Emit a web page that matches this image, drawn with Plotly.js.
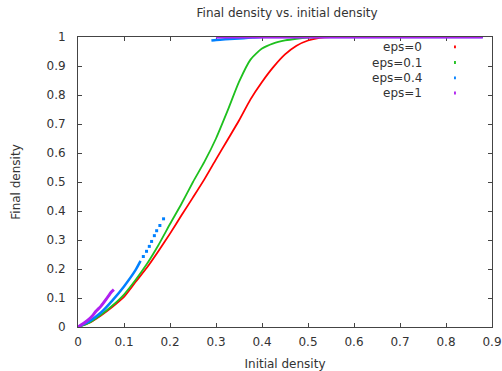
<!DOCTYPE html>
<html>
<head>
<meta charset="utf-8">
<script src="https://cdn.plot.ly/plotly-3.0.1.min.js"></script>
<style>html,body{margin:0;padding:0;background:#fff;}#chart{width:502px;height:371px;}</style>
</head>
<body>
<div id="chart"></div>
<script>
// eps=0
const xEps0 = [0,0.025,0.05,0.075,0.1,0.125,0.15,0.175,0.2,0.225,0.25,0.275,0.3,0.325,0.35,0.375,0.4,0.425,0.45,0.475,0.5,0.525,0.55,0.6,0.7,0.8,0.88];
const yEps0 = [0,0.015,0.04,0.07,0.104,0.155,0.205,0.262,0.322,0.385,0.447,0.51,0.578,0.645,0.712,0.785,0.845,0.897,0.94,0.97,0.988,0.997,1,1,1,1,1];
// eps=0.1
const xEps01 = [0,0.025,0.05,0.075,0.1,0.125,0.15,0.175,0.2,0.225,0.25,0.275,0.3,0.325,0.35,0.375,0.4,0.425,0.45,0.475,0.5,0.525,0.6,0.7,0.8,0.88];
const yEps01 = [0,0.015,0.042,0.074,0.112,0.162,0.218,0.283,0.355,0.425,0.5,0.57,0.65,0.745,0.845,0.922,0.96,0.978,0.988,0.994,0.998,1,1,1,1,1];
// eps=0.4 (low branch, sparse points, upper branch)
const xEps04Low = [0,0.025,0.05,0.075,0.1,0.125,0.136];
const yEps04Low = [0,0.02,0.05,0.092,0.14,0.196,0.228];
const xEps04Sparse = [0.142,0.149,0.155,0.16,0.166,0.171,0.178,0.186];
const yEps04Sparse = [0.243,0.261,0.278,0.295,0.315,0.332,0.35,0.373];
const xEps04High = [0.29,0.3,0.32,0.34,0.36,0.38,0.4,0.5,0.6,0.7,0.8,0.88];
const yEps04High = [0.988,0.99,0.992,0.994,0.996,0.998,1,1,1,1,1,1];
// eps=1
const xEps1Low = [0,0.01,0.02,0.03,0.039,0.05,0.061,0.072,0.078];
const yEps1Low = [0,0.01,0.022,0.036,0.054,0.072,0.095,0.12,0.129];
const xEps1High = [0.3,0.4,0.5,0.6,0.7,0.8,0.88];
const yEps1High = [1,1,1,1,1,1,1];

const seriesNames = ['eps=0','eps=0.1','eps=0.4','eps=1'];
const seriesColors = ['#ff0000','#1ec01e','#0080ff','#b020f0'];

function join(a, b){ return a.concat([null], b); }

const traces = [
  {x: xEps0, y: yEps0, name: seriesNames[0], mode: 'lines', line: {color: seriesColors[0], width: 1.8, shape: 'spline', smoothing: 0.6}},
  {x: xEps01, y: yEps01, name: seriesNames[1], mode: 'lines', line: {color: seriesColors[1], width: 1.8, shape: 'spline', smoothing: 0.6}},
  {x: join(xEps04Low, xEps04High), y: join(yEps04Low, yEps04High), name: seriesNames[2], mode: 'lines', connectgaps: false, line: {color: seriesColors[2], width: 2.5, shape: 'spline', smoothing: 0.5}},
  {x: xEps04Sparse, y: yEps04Sparse, name: seriesNames[2], mode: 'markers', marker: {color: seriesColors[2], size: 3, symbol: 'square'}},
  {x: join(xEps1Low, xEps1High), y: join(yEps1Low, yEps1High), name: seriesNames[3], mode: 'lines', connectgaps: false, line: {color: seriesColors[3], width: 3, shape: 'spline', smoothing: 0.5}}
];
traces.forEach(t => { t.showlegend = false; t.hoverinfo = 'skip'; t.cliponaxis = false; });

const font = {family: 'DejaVu Sans, sans-serif', size: 12, color: '#333'};

const legendY = [0.966, 0.912, 0.859, 0.807];
const annotations = seriesNames.map((n, i) => ({
  x: 0.752, y: legendY[i], xref: 'x', yref: 'y', text: n, showarrow: false,
  xanchor: 'right', yanchor: 'middle', font: font
}));
const shapes = seriesColors.map((c, i) => ({
  type: 'rect', xref: 'x', yref: 'y',
  x0: 0.8175, x1: 0.8215, y0: legendY[i] - 0.005, y1: legendY[i] + 0.005,
  fillcolor: c, line: {width: 0}
}));

const axisCommon = {
  showgrid: false, zeroline: false, showline: true, linecolor: '#444', linewidth: 1,
  mirror: 'ticks', ticks: 'inside', ticklen: 4, tickcolor: '#444', tickwidth: 1,
  tickfont: font, layer: 'below traces', fixedrange: true
};

const layout = {
  width: 502, height: 371,
  margin: {l: 78, r: 10, t: 37, b: 44},
  paper_bgcolor: '#fff', plot_bgcolor: '#fff',
  font: font,
  title: {text: 'Final density vs. initial density', font: font, x: 0.505, xref: 'paper', xanchor: 'center', y: 0.965, yref: 'container', yanchor: 'middle'},
  xaxis: Object.assign({}, axisCommon, {range: [0, 0.9], dtick: 0.1, tick0: 0, ticklabelstandoff: 4,
    title: {text: 'Initial density', font: font, standoff: 14}}),
  yaxis: Object.assign({}, axisCommon, {range: [0, 1], dtick: 0.1, tick0: 0, ticklabelstandoff: 9,
    title: {text: 'Final density', font: font, standoff: 23}}),
  showlegend: false,
  annotations: annotations,
  shapes: shapes
};

Plotly.newPlot('chart', traces, layout, {staticPlot: true, displayModeBar: false});
</script>
</body>
</html>
